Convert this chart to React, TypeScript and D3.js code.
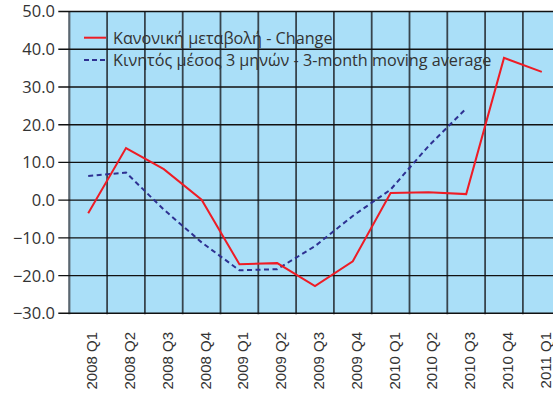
import React from "react";
import * as d3 from "d3";

const categories = [
  "2008 Q1", "2008 Q2", "2008 Q3", "2008 Q4",
  "2009 Q1", "2009 Q2", "2009 Q3", "2009 Q4",
  "2010 Q1", "2010 Q2", "2010 Q3", "2010 Q4",
  "2011 Q1",
];
const changeValues = [-3.5, 13.8, 8.2, 0.1, -17.0, -16.7, -22.8, -16.2, 1.9, 2.1, 1.6, 37.7, 34.0];
const movingAvgValues = [6.4, 7.3, -2.5, -11.2, -18.6, -18.3, -12.2, -4.2, 2.8, 14.3, 24.3];
const yTicks = [50, 40, 30, 20, 10, 0, -10, -20, -30];
const legendLabels = [
  "Κανονική μεταβολή - Change",
  "Κινητός μέσος 3 μηνών - 3-month moving average",
];

const W = 553;
const H = 398;
const left = 69.3;
const band = 37.8;
const top = 11.5;
const bottom = 313.3;

export default function App() {
  const x = d3
    .scaleBand<string>()
    .domain(categories)
    .range([left, left + band * categories.length])
    .paddingInner(0)
    .paddingOuter(0);
  const y = d3.scaleLinear().domain([-30, 50]).range([bottom, top]);
  const cx = (c: string) => (x(c) as number) + x.bandwidth() / 2;

  const line = d3
    .line<number>()
    .x((_, i) => cx(categories[i]))
    .y((d) => y(d));

  const plotRight = left + band * categories.length;

  return (
    <svg
      width={W}
      height={H}
      style={{ position: "absolute", left: 0, top: 0, background: "#fff" }}
    >
      <rect x={left} y={top} width={plotRight - left} height={bottom - top} fill="#aadff8" />
      {categories.map((c, i) => (
        <line
          key={"v" + i}
          x1={x(c) as number}
          x2={x(c) as number}
          y1={top}
          y2={bottom + 1}
          stroke={i === 0 ? "#5a6670" : "#37444d"}
          strokeWidth={i === 0 ? 2.2 : 1.8}
        />
      ))}
      {yTicks.map((t) => (
        <line
          key={"h" + t}
          x1={left - 11}
          x2={plotRight}
          y1={y(t)}
          y2={y(t)}
          stroke="#111"
          strokeWidth={1.4}
        />
      ))}
      {yTicks.map((t) => (
        <text
          key={"yl" + t}
          x={55}
          y={y(t)}
          dy="0.36em"
          textAnchor="end"
          fontFamily="'Open Sans', sans-serif"
          fontSize={16.5}
          fill="#333"
        >
          {d3.format(".1f")(t)}
        </text>
      ))}
      {categories.map((c) => (
        <text
          key={"xl" + c}
          transform={`translate(${cx(c) + 3.5},332) rotate(-90)`}
          dy="0.36em"
          textAnchor="end"
          fontFamily="'Liberation Sans', Arial, sans-serif"
          fontSize={15}
          fill="#333"
        >
          {c}
        </text>
      ))}
      <path
        d={line(movingAvgValues) || ""}
        fill="none"
        stroke="#2e3192"
        strokeWidth={2}
        strokeDasharray="5,3.5"
      />
      <path
        d={line(changeValues) || ""}
        fill="none"
        stroke="#ee1c25"
        strokeWidth={2}
        strokeLinejoin="miter"
      />
      <line x1={84} x2={106} y1={37.7} y2={37.7} stroke="#ee1c25" strokeWidth={2} />
      <line
        x1={84}
        x2={106}
        y1={60}
        y2={60}
        stroke="#2e3192"
        strokeWidth={2}
        strokeDasharray="5,3"
      />
      {legendLabels.map((l, i) => (
        <text
          key={"lg" + i}
          x={113}
          y={i === 0 ? 37.7 : 60}
          dy="0.36em"
          fontFamily="'Open Sans', sans-serif"
          fontSize={16.2}
          fill="#333"
        >
          {l}
        </text>
      ))}
    </svg>
  );
}
